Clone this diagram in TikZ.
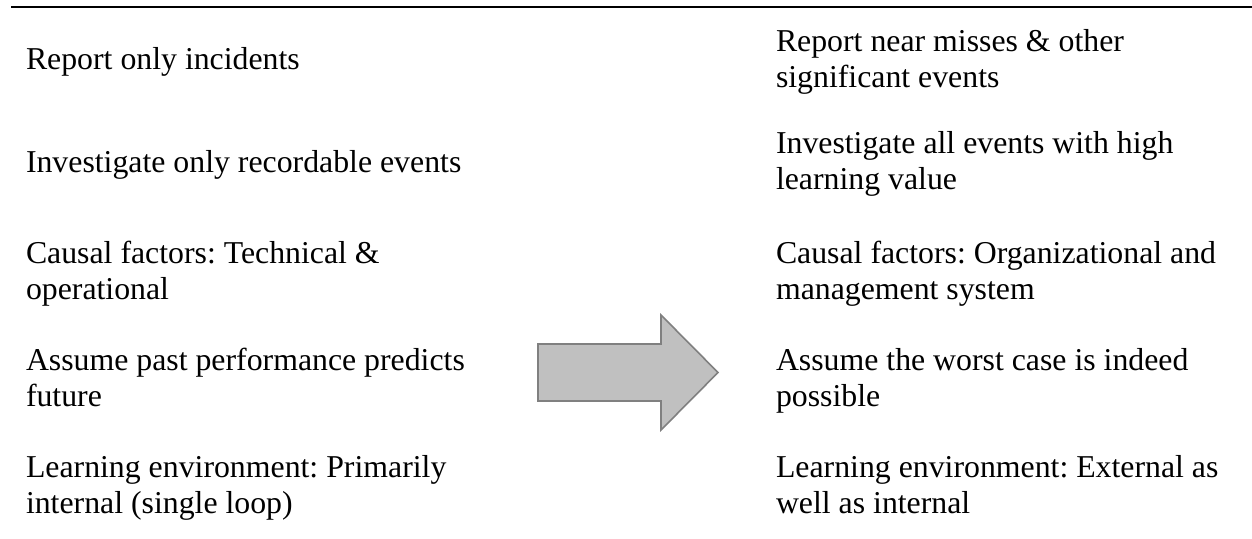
\documentclass[tikz,border=0pt]{standalone}
\usepackage{fontspec}
\setmainfont{Liberation Serif}
\frenchspacing
\definecolor{arrowfill}{RGB}{192,192,192}
\definecolor{arrowline}{RGB}{128,128,128}
\tikzset{
  celltext/.style={anchor=base west, inner sep=0pt, outer sep=0pt},
  rule/.style={line width=2.3pt, black},
  bigarrow/.style={fill=arrowfill, draw=arrowline, line width=1.6pt, line join=miter}
}
\newcommand{\celltxt}[1]{\parbox[t]{470pt}{\raggedright\frenchspacing\fontsize{31.8pt}{36.5pt}\selectfont #1}}
\begin{document}
\begin{tikzpicture}[x=1pt, y=-1pt]
  \useasboundingbox (0,0) rectangle (1252,538);
  % top rule
  \coordinate (ruleL) at (11,7);
  \coordinate (ruleR) at (1252,7);
  \draw[rule] (ruleL) -- (ruleR);
  % left column
  \node[celltext] (l1) at (26,69)  {\celltxt{Report only incidents}};
  \node[celltext] (l2) at (26,172) {\celltxt{Investigate only recordable events}};
  \node[celltext] (l3) at (26,263) {\celltxt{Causal factors: Technical \&\\operational}};
  \node[celltext] (l4) at (26,370) {\celltxt{Assume past performance predicts\\future}};
  \node[celltext] (l5) at (26,477) {\celltxt{Learning environment: Primarily\\internal (single loop)}};
  % right column
  \node[celltext] (r1) at (776,51)  {\celltxt{Report near misses \& other\\significant events}};
  \node[celltext] (r2) at (776,153) {\celltxt{Investigate all events with high\\learning value}};
  \node[celltext] (r3) at (776,263) {\celltxt{Causal factors: Organizational and\\management system}};
  \node[celltext] (r4) at (776,370) {\celltxt{Assume the worst case is indeed\\possible}};
  \node[celltext] (r5) at (776,477) {\celltxt{Learning environment: External as\\well as internal}};
  % block arrow
  \draw[bigarrow] (538,344) -- (661,344) -- (661,315) -- (718,372.5)
    -- (661,430) -- (661,401) -- (538,401) -- cycle;
\end{tikzpicture}
\end{document}
